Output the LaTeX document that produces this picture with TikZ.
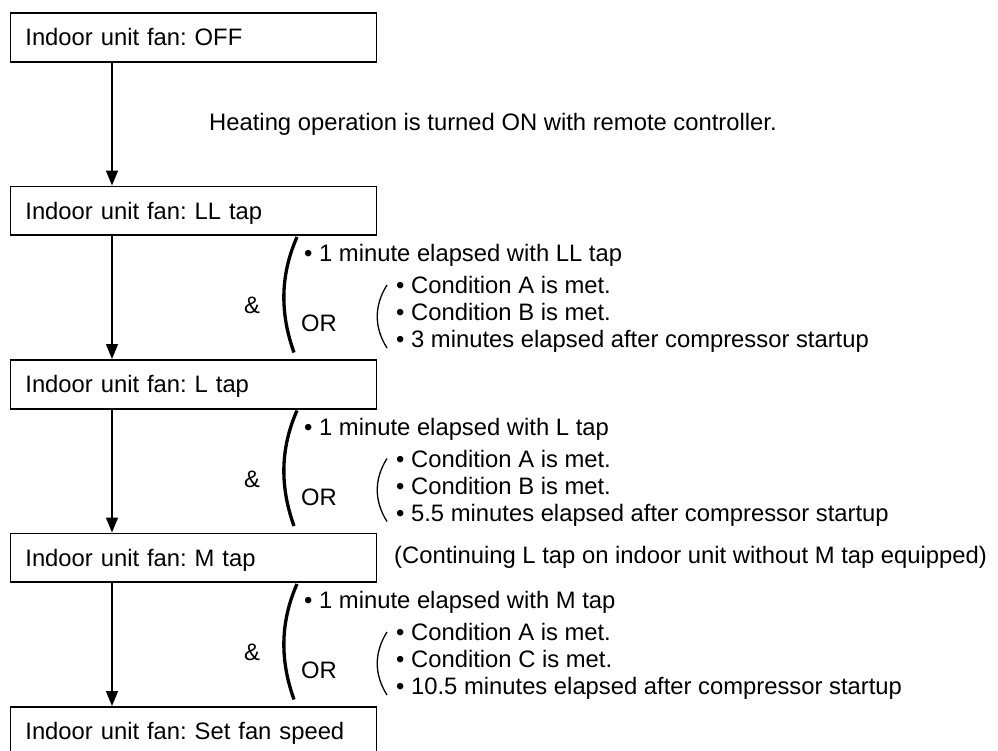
\documentclass[tikz,border=0pt]{standalone}
\usepackage{fontspec}
\setmainfont{Liberation Sans}
\usetikzlibrary{arrows.meta}
\frenchspacing
\begin{document}
\begin{tikzpicture}[x=1bp,y=-1bp,
  every node/.style={font=\fontsize{23.8bp}{28bp}\selectfont, inner sep=0pt},
  box/.style={draw, line width=1.8bp, anchor=north west, minimum width=366bp, minimum height=48.7bp,
    text width=336bp, align=left, inner xsep=15bp, inner ysep=0pt, text height=19bp, text depth=2.2bp},
  arr/.style={line width=1.5bp, -{Triangle[width=12bp,length=15bp]}},
  cond/.style={anchor=base west},
  bigbr/.style={line width=3.3bp},
  smallbr/.style={line width=1.3bp}]
\useasboundingbox (0,0) rectangle (998,751);
\node[box] (b1) at (9.5,12) {Indoor unit fan: OFF};
\node[box] (b2) at (9.5,185.5) {Indoor unit fan: LL tap};
\node[box] (b3) at (9.5,359) {Indoor unit fan: L tap};
\node[box] (b4) at (9.5,532.5) {Indoor unit fan: M tap};
\node[box] (b5) at (9.5,706) {Indoor unit fan: Set fan speed};
\coordinate (ax) at (112,0);
\draw[arr] (b1.south -| ax) -- (b2.north -| ax);
\draw[arr] (b2.south -| ax) -- (b3.north -| ax);
\draw[arr] (b3.south -| ax) -- (b4.north -| ax);
\draw[arr] (b4.south -| ax) -- (b5.north -| ax);
\node[anchor=base west] (heat) at (209,130.5) {Heating operation is turned ON with remote controller.};
\node[anchor=base west] (cont) at (394,563.5) {(Continuing L tap on indoor unit without M tap equipped)};
\foreach \i/\B/\tap/\c/\m in {1/235.5/LL/B/3, 2/409/L/B/5.5, 3/582.5/M/C/10.5}{
  \node[cond] (s\i l) at (304,\B+26) {• 1 minute elapsed with \tap\ tap};
  \node[cond] (s\i a) at (396,\B+58) {• Condition A is met.};
  \node[cond] (s\i b) at (396,\B+85) {• Condition \c\ is met.};
  \node[cond] (s\i c) at (396,\B+112) {• \m\ minutes elapsed after compressor startup};
  \node[anchor=base] (s\i and) at (252,\B+78) {\&};
  \node[anchor=base west] (s\i or) at (301,\B+96) {OR};
  \draw[bigbr] (297,\B+1.5) .. controls (280,\B+40) and (280,\B+78) .. (294,\B+117);
  \draw[smallbr] (387,\B+49.5) .. controls (374,\B+70) and (374,\B+92) .. (387,\B+112.5);
}
\end{tikzpicture}
\end{document}
